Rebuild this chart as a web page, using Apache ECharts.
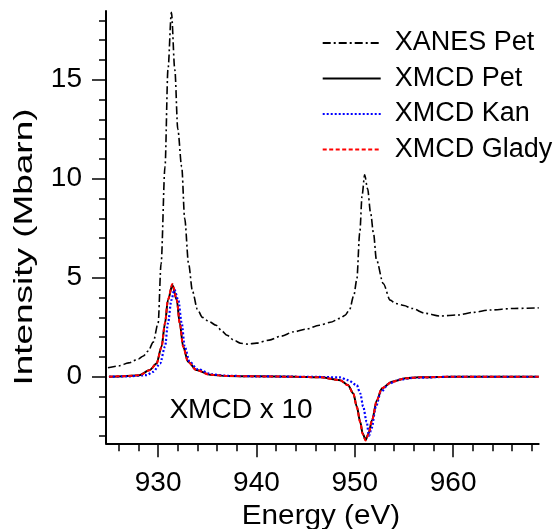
<!DOCTYPE html>
<html>
<head>
<meta charset="utf-8">
<script src="https://cdn.jsdelivr.net/npm/echarts@6/dist/echarts.min.js"></script>
<style>html,body{margin:0;padding:0;background:#fff;}#c{width:556px;height:529px;}</style>
</head>
<body>
<div id="c"></div>
<script>
// ---- data ----
const seriesNames = ['XANES Pet', 'XMCD Pet', 'XMCD Kan', 'XMCD Glady'];

const energyXanes = [924.9, 926, 927, 928, 928.5, 929, 929.5, 930, 930.3, 930.7, 931.0, 931.35, 931.7, 932.0, 932.4, 932.7, 933.1, 933.5, 934.0, 934.5, 935.2, 935.9, 936.5, 937.0, 937.7, 938.4, 939.1, 940, 941.3, 942.5, 943.8, 945, 946.4, 947.5, 948.5, 949.0, 949.45, 949.9, 950.2, 950.5, 950.75, 951.0, 951.3, 951.6, 951.9, 952.2, 952.9, 953.6, 954.15, 955, 955.8, 957.2, 958.65, 960.5, 962, 963.7, 966.2, 968.7];
const xanesPet    = [0.45, 0.55, 0.7, 0.9, 1.05, 1.3, 1.75, 2.7, 5.7, 10.6, 15.5, 18.4, 15.5, 12.5, 10.6, 8.0, 5.7, 4.3, 3.4, 3.0, 2.78, 2.6, 2.3, 2.1, 1.85, 1.69, 1.65, 1.7, 1.85, 2.05, 2.27, 2.4, 2.6, 2.75, 2.95, 3.1, 3.37, 4.1, 4.9, 7.25, 9.2, 10.2, 9.5, 8.3, 7.25, 5.9, 4.7, 3.87, 3.7, 3.6, 3.45, 3.2, 3.07, 3.12, 3.25, 3.37, 3.45, 3.48];

const energyPet = [925.0, 926.5, 928.1, 929.15, 929.84, 930.35, 930.7, 931.0, 931.45, 931.9, 932.2, 932.55, 933.05, 933.9, 935.3, 937, 940, 944, 946.5, 948.5, 949.3, 949.85, 950.2, 950.55, 950.8, 951.1, 951.4, 951.75, 952.25, 952.75, 953.8, 955.15, 956.5, 960, 968.7];
const xmcdPet   = [0.0, 0.03, 0.08, 0.34, 0.67, 1.52, 2.7, 3.87, 4.63, 3.87, 2.7, 1.52, 0.76, 0.34, 0.1, 0.04, 0.02, 0.0, -0.03, -0.17, -0.42, -0.84, -1.5, -2.27, -2.86, -3.18, -2.86, -2.19, -1.18, -0.59, -0.25, -0.08, -0.03, 0.0, 0.0];

const energyKan = [925, 927, 928.8, 929.5, 930.2, 930.7, 931.0, 931.35, 931.65, 932.05, 932.4, 932.7, 933.2, 934.0, 935.5, 937, 940, 945, 948.5, 949.3, 950.2, 950.55, 950.85, 951.2, 951.45, 951.7, 952.15, 952.65, 953.5, 954.5, 956, 960, 968.7];
const xmcdKan   = [0.0, 0.02, 0.08, 0.25, 0.67, 1.52, 2.7, 3.87, 4.4, 3.87, 2.7, 1.52, 0.76, 0.38, 0.12, 0.05, 0.02, 0.0, -0.03, -0.17, -0.42, -0.84, -1.5, -2.27, -2.98, -2.6, -1.5, -0.76, -0.34, -0.15, -0.05, 0.0, 0.0];

const energyGlady = [925.0, 926.5, 928.1, 929.15, 929.84, 930.35, 930.7, 931.0, 931.45, 931.9, 932.2, 932.55, 933.05, 933.9, 935.3, 937, 940, 944, 946.5, 948.5, 949.3, 949.85, 950.2, 950.55, 950.8, 951.1, 951.4, 951.75, 952.25, 952.75, 953.8, 955.15, 956.5, 960, 968.7];
const xmcdGlady   = [0.0, 0.03, 0.08, 0.33, 0.66, 1.5, 2.72, 3.9, 4.68, 3.88, 2.7, 1.5, 0.75, 0.33, 0.1, 0.04, 0.02, 0.0, -0.03, -0.17, -0.43, -0.85, -1.52, -2.3, -2.9, -3.22, -2.88, -2.2, -1.18, -0.58, -0.25, -0.08, -0.03, 0.0, 0.0];

const xMajorTicks = [930, 940, 950, 960];
const xMinorTicks = [926, 928, 930, 932, 934, 936, 938, 940, 942, 944, 946, 948, 950, 952, 954, 956, 958, 960, 962, 964, 966, 968];
const yMajorTicks = [0, 5, 10, 15];
const yMinorTicks = [-3, -2, -1, 0, 1, 2, 3, 4, 5, 6, 7, 8, 9, 10, 11, 12, 13, 14, 15, 16, 17, 18];

const xLabel = 'Energy (eV)';
const yLabel = 'Intensity (Mbarn)';
const noteText = 'XMCD x 10';

// ---- build chart ----
const FONT = '"Liberation Sans", Arial, Helvetica, sans-serif';
const pairs = (xs, ys) => xs.map((x, i) => [x, ys[i]]);
const X_MIN = 924.7, X_MAX = 968.7, Y_MIN = -3.36, Y_MAX = 18.47;

const chart = echarts.init(document.getElementById('c'), null, { renderer: 'canvas' });
chart.setOption({
  animation: false,
  backgroundColor: '#ffffff',
  grid: { left: 106, right: 17.3, top: 11, bottom: 85.7 },
  xAxis: [
    {
      type: 'value', min: X_MIN, max: X_MAX, position: 'bottom',
      splitLine: { show: false },
      axisLine: { show: true, onZero: false, lineStyle: { color: '#000', width: 2 } },
      axisTick: { show: true, inside: false, length: 14, customValues: xMajorTicks, lineStyle: { color: '#000', width: 1.5 } },
      axisLabel: { show: true, customValues: xMajorTicks, margin: 26, color: '#000', fontSize: 28, fontFamily: FONT }
    },
    {
      type: 'value', min: X_MIN, max: X_MAX, position: 'bottom',
      splitLine: { show: false },
      axisLine: { show: false, onZero: false },
      axisTick: { show: true, inside: false, length: 8, customValues: xMinorTicks, lineStyle: { color: '#000', width: 1.5 } },
      axisLabel: { show: false }
    }
  ],
  yAxis: [
    {
      type: 'value', min: Y_MIN, max: Y_MAX, position: 'left',
      splitLine: { show: false },
      axisLine: { show: true, onZero: false, lineStyle: { color: '#000', width: 2 } },
      axisTick: { show: true, inside: false, length: 14, customValues: yMajorTicks, lineStyle: { color: '#000', width: 1.5 } },
      axisLabel: { show: true, customValues: yMajorTicks, margin: 24, color: '#000', fontSize: 28, fontFamily: FONT }
    },
    {
      type: 'value', min: Y_MIN, max: Y_MAX, position: 'left',
      splitLine: { show: false },
      axisLine: { show: false, onZero: false },
      axisTick: { show: true, inside: false, length: 7, customValues: yMinorTicks, lineStyle: { color: '#000', width: 1.5 } },
      axisLabel: { show: false }
    }
  ],
  legend: {
    orient: 'vertical', left: 321.7, top: 29, align: 'left',
    itemWidth: 58, itemHeight: 16, itemGap: 7.5, padding: 0,
    itemStyle: { opacity: 0 },
    textStyle: { fontSize: 27, fontFamily: FONT, color: '#000', lineHeight: 28, padding: [0, 0, 0, 9] },
    data: seriesNames
  },
  graphic: [
    { type: 'text', x: 241, y: 410, style: { text: noteText, fontSize: 28, fontFamily: FONT, fill: '#000', textAlign: 'center', textVerticalAlign: 'middle' } },
    { type: 'text', x: 321, y: 516, scaleX: 1.06, style: { text: xLabel, fontSize: 28, fontFamily: FONT, fill: '#000', textAlign: 'center', textVerticalAlign: 'middle' } },
    { type: 'text', x: 25, y: 247, rotation: Math.PI / 2, scaleX: 1.42, style: { text: yLabel, fontSize: 26, fontFamily: FONT, fill: '#000', textAlign: 'center', textVerticalAlign: 'middle' } }
  ],
  series: [
    {
      name: seriesNames[0], type: 'line', data: pairs(energyXanes, xanesPet),
      showSymbol: false, symbol: 'none', smooth: 0.3, smoothMonotone: 'x', clip: true,
      lineStyle: { color: '#000', width: 1.6, type: [8, 3, 2, 3] }, itemStyle: { color: '#000' }
    },
    {
      name: seriesNames[1], type: 'line', data: pairs(energyPet, xmcdPet),
      showSymbol: false, symbol: 'none', smooth: 0.3, smoothMonotone: 'x', clip: true,
      lineStyle: { color: '#000', width: 2 }, itemStyle: { color: '#000' }
    },
    {
      name: seriesNames[2], type: 'line', data: pairs(energyKan, xmcdKan),
      showSymbol: false, symbol: 'none', smooth: 0.3, smoothMonotone: 'x', clip: true,
      lineStyle: { color: '#0000ff', width: 2.2, type: [2, 2] }, itemStyle: { color: '#0000ff' }
    },
    {
      name: seriesNames[3], type: 'line', data: pairs(energyGlady, xmcdGlady),
      showSymbol: false, symbol: 'none', smooth: 0.3, smoothMonotone: 'x', clip: true,
      lineStyle: { color: '#ff0000', width: 2, type: [4, 2.5] }, itemStyle: { color: '#ff0000' }
    }
  ]
});
</script>
</body>
</html>
